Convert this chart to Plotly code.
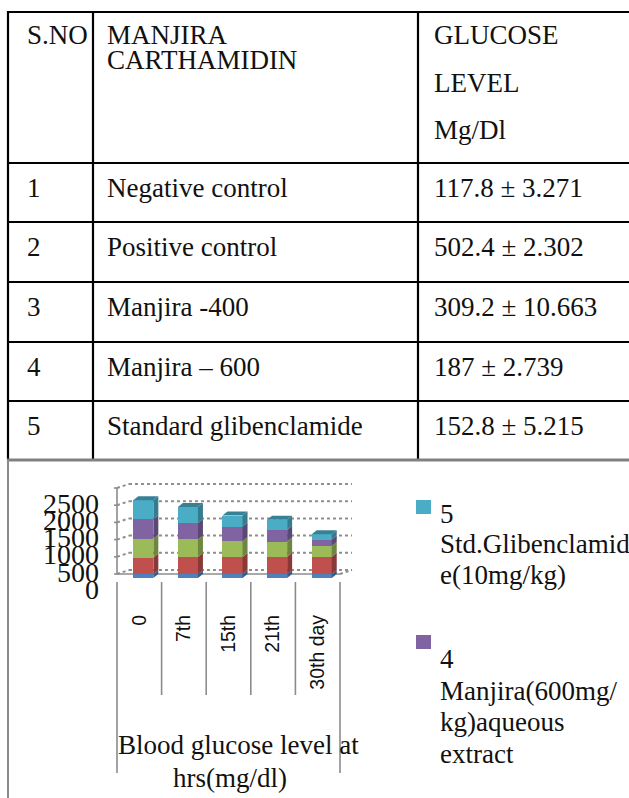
import plotly.graph_objects as go

W, H = 629, 798

# ---------------- table content ----------------
header_sno = ["S.NO"]
header_group = ["MANJIRA", "CARTHAMIDIN"]
header_glucose = ["GLUCOSE", "LEVEL", "Mg/Dl"]
sno = ["1", "2", "3", "4", "5"]
groups = ["Negative control", "Positive control", "Manjira -400",
          "Manjira \u2013 600", "Standard glibenclamide"]
glucose = ["117.8 \u00b1 3.271", "502.4 \u00b1 2.302", "309.2 \u00b1 10.663",
           "187 \u00b1 2.739", "152.8 \u00b1 5.215"]

# ---------------- chart content ----------------
days = ["0", "7th", "15th", "21th", "30th day"]
y_ticks = [0, 500, 1000, 1500, 2000, 2500]
series_names = ["1 Negative control", "2 Positive control",
                "3 Manjira(400mg/kg)aqueous extract",
                "4 Manjira(600mg/kg)aqueous extract",
                "5 Std.Glibenclamide(10mg/kg)"]
negative_control = [108, 112, 114, 116, 117.8]
positive_control = [485, 495, 498, 500, 502.4]
manjira_400 = [550, 515, 455, 445, 309.2]
manjira_600 = [565, 475, 430, 340, 187]
std_glibenclamide = [555, 465, 320, 290, 152.8]
series_values = [negative_control, positive_control, manjira_400,
                 manjira_600, std_glibenclamide]
colors = ["#4F81BD", "#C0504D", "#9BBB59", "#8064A2", "#4BACC6"]

legend_lines = {
    4: ["5", "Std.Glibenclamid", "e(10mg/kg)"],
    3: ["4", "Manjira(600mg/", "kg)aqueous", "extract"],
}

SERIF = "Liberation Serif, Times New Roman, serif"
SANS = "Liberation Sans, Arial, sans-serif"
INK = "#111111"


def px(x):
    return x / W


def py(y):
    return 1 - y / H


def shade(hex_color, f):
    h = hex_color.lstrip("#")
    r, g, b = (int(h[i:i + 2], 16) for i in (0, 2, 4))
    return "#%02x%02x%02x" % (int(r * f), int(g * f), int(b * f))


shapes = []
annotations = []

# ---------------- table grid ----------------
row_lines = [12, 163, 222, 282, 342, 401]
col_lines = [8, 93, 418]
for y in row_lines:
    shapes.append(dict(type="line", xref="paper", yref="paper",
                       x0=px(7), x1=px(W + 5), y0=py(y), y1=py(y),
                       line=dict(color="#000000", width=2.2)))
for x in col_lines:
    shapes.append(dict(type="line", xref="paper", yref="paper",
                       x0=px(x), x1=px(x), y0=py(11), y1=py(460),
                       line=dict(color="#000000", width=2.2)))
# lower cell holding the chart
shapes.append(dict(type="line", xref="paper", yref="paper",
                   x0=px(7), x1=px(W + 5), y0=py(460), y1=py(460),
                   line=dict(color="#808080", width=3)))
shapes.append(dict(type="line", xref="paper", yref="paper",
                   x0=px(8), x1=px(8), y0=py(460), y1=py(H + 5),
                   line=dict(color="#8a8a8a", width=2)))

col_text_x = [25, 105, 432]
TXT = 27


def cell_text(x, y, s, size=TXT, family=SERIF, anchor="left"):
    annotations.append(dict(xref="paper", yref="paper", x=px(x), y=py(y),
                            text=s, showarrow=False, xanchor=anchor,
                            yanchor="middle",
                            font=dict(family=family, size=size, color=INK)))


cell_text(col_text_x[0], 35, header_sno[0])
for s, y in zip(header_group, [35, 60]):
    cell_text(col_text_x[1], y, s)
for s, y in zip(header_glucose, [35, 83, 130]):
    cell_text(col_text_x[2], y, s)

row_edges = row_lines[1:] + [460]
for i in range(len(sno)):
    yc = (row_edges[i] + row_edges[i + 1]) / 2 - 5
    cell_text(col_text_x[0], yc, sno[i])
    cell_text(col_text_x[1], yc, groups[i])
    cell_text(col_text_x[2], yc, glucose[i])

# ---------------- 3-D style stacked column chart ----------------
# pixel geometry of the chart's front plane
FRONT_X0 = 117.0          # left edge of category band (front)
CAT_W = 44.6              # pixel width of one category
FRONT_Y0 = 582.0          # value 0 on the front plane
PX_PER_UNIT = 17.2 / 500  # vertical pixels per mg/dl
BAR_PLANE = (4, -4)       # bar faces relative to front plane (px)
BACK_PLANE = (12, -12)
BAR_DEPTH = (5, -4)
BAR_W = 0.45

bx0 = FRONT_X0 + BAR_PLANE[0]
by0 = FRONT_Y0 + BAR_PLANE[1]


def xval(pxx):
    return (pxx - bx0) / CAT_W - 0.5


def yval(pyy):
    return (by0 - pyy) / PX_PER_UNIT


dom_x = (105, 365)
dom_y = (476, 592)

dx_unit = 1 / CAT_W
dy_unit = 1 / PX_PER_UNIT
fx, fy = -BAR_PLANE[0] * dx_unit, -BAR_PLANE[1] * dy_unit
kx, ky = (BACK_PLANE[0] - BAR_PLANE[0]) * dx_unit, -(BACK_PLANE[1] - BAR_PLANE[1]) * dy_unit
ddx, ddy = BAR_DEPTH[0] * dx_unit, -BAR_DEPTH[1] * dy_unit

n = len(days)
xs = list(range(n))
left_c, right_c = -0.5, n - 0.5

GRID = dict(color="#8f8f8f", width=2, dash="dot")
AXIS = dict(color="#8c8c8c", width=1.6)

for v in y_ticks:
    # side wall
    shapes.append(dict(type="line", xref="x", yref="y", layer="below",
                       x0=left_c + fx - 3 * dx_unit, y0=v + fy,
                       x1=left_c + fx, y1=v + fy, line=AXIS))
    shapes.append(dict(type="line", xref="x", yref="y", layer="below",
                       x0=left_c + fx, y0=v + fy, x1=left_c + kx, y1=v + ky,
                       line=GRID))
    # back wall
    shapes.append(dict(type="line", xref="x", yref="y", layer="below",
                       x0=left_c + kx, y0=v + ky, x1=right_c + kx, y1=v + ky,
                       line=GRID))
# front value axis and floor
shapes.append(dict(type="line", xref="x", yref="y", layer="below",
                   x0=left_c + fx, y0=fy, x1=left_c + fx, y1=y_ticks[-1] + fy,
                   line=AXIS))
shapes.append(dict(type="line", xref="x", yref="y", layer="below",
                   x0=left_c + fx, y0=fy, x1=right_c + fx, y1=fy, line=AXIS))
shapes.append(dict(type="line", xref="x", yref="y", layer="below",
                   x0=right_c + fx, y0=fy, x1=right_c + kx, y1=ky, line=GRID))

# category band dividers under the plot
for k in range(n + 1):
    bottom = 773 if k in (0, n) else 695
    shapes.append(dict(type="line", xref="x", yref="paper",
                       x0=left_c + k + fx, x1=left_c + k + fx,
                       y0=py(FRONT_Y0), y1=py(bottom), line=AXIS))

fig = go.Figure()
for name, vals, col in zip(series_names, series_values, colors):
    fig.add_trace(go.Bar(x=xs, y=vals, name=name, width=BAR_W,
                         marker=dict(color=col, line=dict(width=0)),
                         showlegend=False, hoverinfo="skip"))

# side and top faces of each stacked block
cum = [0.0] * n
for si, (vals, col) in enumerate(zip(series_values, colors)):
    for c in range(n):
        b, t = cum[c], cum[c] + vals[c]
        xr = c + BAR_W / 2
        xl = c - BAR_W / 2
        shapes.append(dict(
            type="path", xref="x", yref="y", line=dict(width=0),
            fillcolor=shade(col, 0.72),
            path=f"M {xr},{b} L {xr + ddx},{b + ddy} L {xr + ddx},{t + ddy} L {xr},{t} Z"))
        if si == len(series_values) - 1:
            shapes.append(dict(
                type="path", xref="x", yref="y", line=dict(width=0),
                fillcolor=shade(col, 0.75),
                path=f"M {xl},{t} L {xl + ddx},{t + ddy} L {xr + ddx},{t + ddy} L {xr},{t} Z"))
        cum[c] = t

# axis group caption
cell_text(238, 745, "Blood glucose level at", anchor="center")
cell_text(230, 778, "hrs(mg/dl)", anchor="center")

# legend (visible part)
legend_pos = {4: (500, [514, 544, 575]), 3: (635, [659, 691, 722, 754])}
for si, (sq_top, ys) in legend_pos.items():
    shapes.append(dict(type="rect", xref="paper", yref="paper",
                       x0=px(416), x1=px(431), y0=py(sq_top), y1=py(sq_top + 14),
                       fillcolor=colors[si], line=dict(width=0)))
    for s, y in zip(legend_lines[si], ys):
        cell_text(438, y, s)

fig.update_layout(
    width=W, height=H, margin=dict(l=0, r=0, t=0, b=0, autoexpand=False),
    paper_bgcolor="white", plot_bgcolor="rgba(0,0,0,0)",
    barmode="stack", bargap=0, showlegend=False,
    shapes=shapes, annotations=annotations,
    xaxis=dict(domain=[px(dom_x[0]), px(dom_x[1])],
               range=[xval(dom_x[0]), xval(dom_x[1])],
               tickvals=xs, ticktext=days, tickangle=-90,
               tickfont=dict(family=SANS, size=19.5, color=INK),
               ticklabelshift=-BAR_PLANE[0], ticklabelstandoff=18,
               showgrid=False, zeroline=False, showline=False, ticks="",
               automargin=False, fixedrange=True),
    yaxis=dict(domain=[py(dom_y[1]), py(dom_y[0])],
               range=[yval(dom_y[1]), yval(dom_y[0])],
               tickvals=y_ticks, ticktext=[str(v) for v in y_ticks],
               tickfont=dict(family=SERIF, size=28, color=INK),
               ticklabelshift=11, ticklabelstandoff=5,
               showgrid=False, zeroline=False, showline=False, ticks="",
               automargin=False, fixedrange=True),
)

fig.write_html("out.html")
